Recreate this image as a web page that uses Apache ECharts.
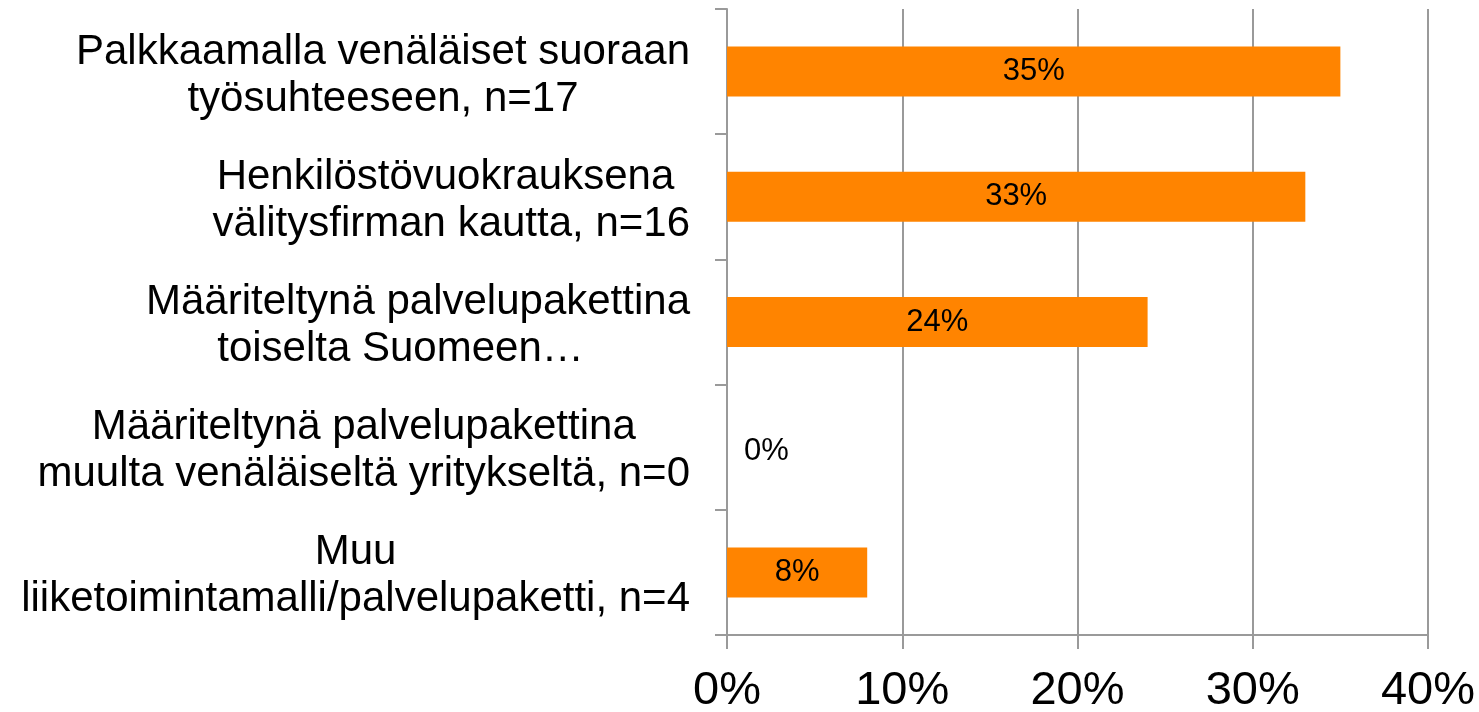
<!DOCTYPE html>
<html>
<head>
<meta charset="utf-8">
<script src="https://cdn.jsdelivr.net/npm/echarts@6/dist/echarts.min.js"></script>
<style>
  html, body { margin: 0; padding: 0; background: #fff; }
  #chart { width: 1479px; height: 712px; }
</style>
</head>
<body>
<div id="chart"></div>
<script>
const categories = [
  'Palkkaamalla venäläiset suoraan\ntyösuhteeseen, n=17',
  'Henkilöstövuokrauksena \nvälitysfirman kautta, n=16',
  'Määriteltynä palvelupakettina\ntoiselta Suomeen…   ',
  'Määriteltynä palvelupakettina\nmuulta venäläiseltä yritykseltä, n=0',
  'Muu\nliiketoimintamalli/palvelupaketti, n=4'
]
const shares = [35, 33, 24, 0, 8]
const xTicks = [0, 10, 20, 30, 40]

const font = '"Liberation Sans", Arial, sans-serif'
const grey = '#9a9a9a'

const chart = echarts.init(document.getElementById('chart'))
const option = {
  animation: false,
  grid: { left: 727, right: 51, top: 9, bottom: 77, containLabel: false, outerBoundsMode: 'none' },
  xAxis: {
    type: 'value',
    min: xTicks[0],
    max: xTicks[xTicks.length - 1],
    interval: xTicks[1] - xTicks[0],
    axisLine: { show: true, lineStyle: { color: grey, width: 2 } },
    axisTick: { show: true, length: 14, lineStyle: { color: grey, width: 2 } },
    splitLine: { show: true, lineStyle: { color: grey, width: 2 } },
    axisLabel: {
      formatter: '{value}%',
      fontSize: 47,
      color: '#000',
      fontFamily: font,
      margin: 33
    }
  },
  yAxis: {
    type: 'category',
    inverse: true,
    data: categories,
    axisLine: { show: true, lineStyle: { color: grey, width: 2 } },
    axisTick: { show: true, length: 12, lineStyle: { color: grey, width: 2 } },
    axisLabel: {
      margin: 37,
      padding: [8, 0, 0, 0],
      formatter: v => v.split('\n').map(s => '{c|' + s + '}').join('\n'),
      rich: {
        c: { fontSize: 42, lineHeight: 47, color: '#000', fontFamily: font, align: 'center' }
      }
    }
  },
  series: [{
    type: 'bar',
    barWidth: 50,
    itemStyle: { color: '#ff8400' },
    label: {
      show: true,
      position: 'inside',
      formatter: '{c}%',
      fontSize: 31,
      color: '#000',
      fontFamily: font
    },
    data: shares.map(v => v === 0
      ? { value: v, label: { position: 'right', distance: 17, offset: [0, 4] } }
      : v)
  }]
}
chart.setOption(option)
</script>
</body>
</html>
